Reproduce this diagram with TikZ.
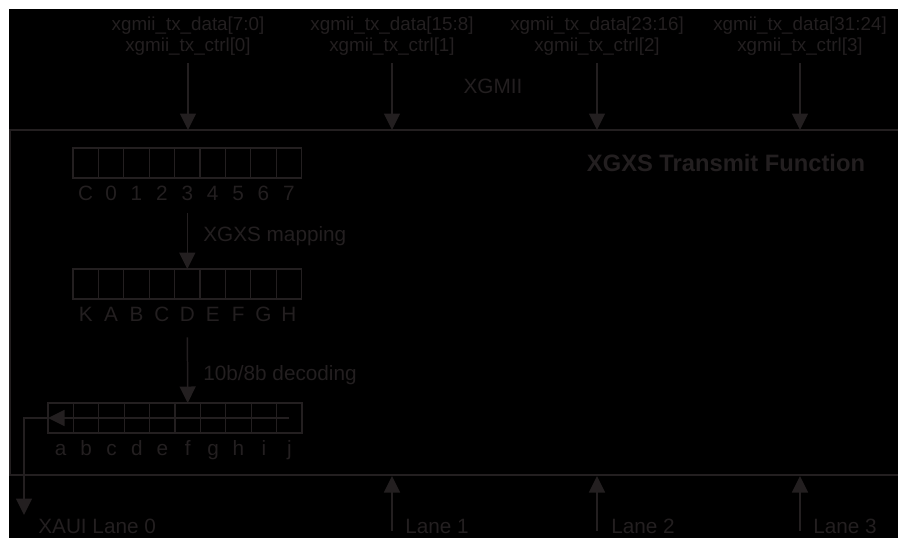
\documentclass[tikz,border=0pt]{standalone}
\usepackage{fontspec}
\setmainfont{Liberation Sans}
\usepackage{tikz}
\usetikzlibrary{arrows.meta, positioning}
\definecolor{inkgray}{RGB}{35, 31, 32}
\definecolor{panelblack}{RGB}{0, 0, 0}

\begin{document}
\begin{tikzpicture}[x=0.02cm, y=-0.02cm,
    sig/.style={font=\fontsize{10.7}{11.9}\selectfont, text=inkgray, align=center, inner sep=0pt},
    lbl/.style={font=\fontsize{11.8}{14}\selectfont, text=inkgray, inner sep=0pt},
    heading/.style={font=\fontsize{13.5}{16}\selectfont\bfseries, text=inkgray, inner sep=0pt},
    cell/.style={draw=inkgray, line width=0.7pt, minimum width=0.508cm, minimum height=0.6cm, inner sep=0pt, outer sep=0pt},
    rule/.style={draw=inkgray, line width=0.85pt},
    line/.style={draw=inkgray, line width=0.85pt, -{Triangle[length=0.33cm, width=0.32cm]}}]

    \useasboundingbox (0,0) rectangle (898,538);
    \fill[white] (0,0) rectangle (898,538);
    \fill[panelblack] (9,9) rectangle (898,538);

    % XGMII inputs
    \node [sig] (in0) at (188,36.5) {xgmii\_tx\_data[7:0]\\xgmii\_tx\_ctrl[0]};
    \node [sig] (in1) at (392,36.5) {xgmii\_tx\_data[15:8]\\xgmii\_tx\_ctrl[1]};
    \node [sig] (in2) at (597,36.5) {xgmii\_tx\_data[23:16]\\xgmii\_tx\_ctrl[2]};
    \node [sig] (in3) at (800,36.5) {xgmii\_tx\_data[31:24]\\xgmii\_tx\_ctrl[3]};
    \node [lbl, anchor=base] (xgmii) at (493,93) {XGMII};

    \coordinate (top0) at (188,130);
    \coordinate (top1) at (392,130);
    \coordinate (top2) at (597,130);
    \coordinate (top3) at (800,130);

    % function panel
    \coordinate (tl) at (10,130);
    \coordinate (tr) at (898,130);
    \coordinate (bl) at (10,475);
    \coordinate (br) at (898,475);
    \draw [rule] (tr) -- (tl) -- (bl) -- (br);
    \node [heading, anchor=base] (fn) at (726,171) {XGXS Transmit Function};

    \path [line, shorten <=0.14cm] (in0) -- (top0);
    \path [line, shorten <=0.14cm] (in1) -- (top1);
    \path [line, shorten <=0.14cm] (in2) -- (top2);
    \path [line, shorten <=0.14cm] (in3) -- (top3);

    % registers
    \foreach \t [count=\i from 0] in {C,0,1,2,3,4,5,6,7} {
        \node [cell] (p\i) at ({73+25.4*(\i+0.5)},163) {};
        \node [lbl, anchor=base] (pl\i) at ([yshift=-0.44cm]p\i.south) {\t};
    }
    \foreach \t [count=\i from 0] in {K,A,B,C,D,E,F,G,H} {
        \node [cell] (m\i) at ({73+25.4*(\i+0.5)},284) {};
        \node [lbl, anchor=base] (ml\i) at ([yshift=-0.44cm]m\i.south) {\t};
    }
    \foreach \t [count=\i from 0] in {a,b,c,d,e,f,g,h,i,j} {
        \node [cell] (q\i) at ({48+25.4*(\i+0.5)},418) {};
        \node [lbl, anchor=base] (ql\i) at ([yshift=-0.44cm]q\i.south) {\t};
    }

    \path [line, shorten <=0.24cm] (pl4.south) -- (m4.north);
    \node [lbl, anchor=base west] (map) at (203,241) {XGXS mapping};
    \path [line, shorten <=0.32cm] (ml4.south) -- (q5.north);
    \node [lbl, anchor=base west] (dec) at (203,380) {10b/8b decoding};

    % XAUI lanes
    \coordinate (lane0) at (24,515);
    \path [line] (q9.center) -- (q0.west);
    \path [line] (q0.west) -| (lane0);
    \node [lbl, anchor=base west] (xaui) at (38,533) {XAUI Lane 0};

    \coordinate (src1) at (392,531);
    \coordinate (src2) at (597,531);
    \coordinate (src3) at (800,531);
    \coordinate (bot1) at (392,476);
    \coordinate (bot2) at (597,476);
    \coordinate (bot3) at (800,476);
    \path [line] (src1) -- (bot1);
    \path [line] (src2) -- (bot2);
    \path [line] (src3) -- (bot3);
    \node [lbl, anchor=base west] (ln1) at (405,533) {Lane 1};
    \node [lbl, anchor=base west] (ln2) at (611,533) {Lane 2};
    \node [lbl, anchor=base west] (ln3) at (813,533) {Lane 3};
\end{tikzpicture}
\end{document}
